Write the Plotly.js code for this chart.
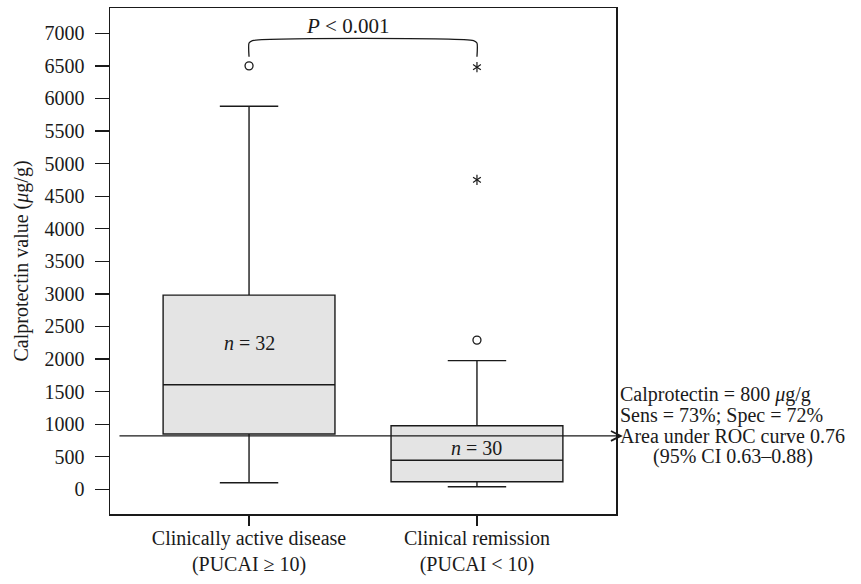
<!DOCTYPE html>
<html>
<head>
<meta charset="utf-8">
<script src="https://cdn.plot.ly/plotly-3.0.1.min.js"></script>
<style>html,body{margin:0;padding:0;background:#fff;}#chart{width:861px;height:584px;}</style>
</head>
<body>
<div id="chart"></div>
<script>
// ---- data ----
var groupPos = [0, 1];
var groupLabels = ["Clinically active disease<br>(PUCAI ≥ 10)", "Clinical remission<br>(PUCAI &lt; 10)"];
var lowerFence = [100, 40];
var q1 = [850, 115];
var median = [1605, 445];
var q3 = [2980, 975];
var upperFence = [5880, 1975];
var nLabels = ["<i>n</i> = 32", "<i>n</i> = 30"];
var nLabelY = [2250, 640];

var circleOutX = [0, 1];
var circleOutY = [6500, 2290];
var starOutX = [1, 1];
var starOutY = [6480, 4750];

var cutoff = 820;
var bracketX = [0, 0, 0.015, 0.985, 1, 1];
var bracketY = [6640, 6850, 6887, 6887, 6850, 6640];
var pText = "<i>P</i> &lt; 0.001";
var yTicks = [0, 500, 1000, 1500, 2000, 2500, 3000, 3500, 4000, 4500, 5000, 5500, 6000, 6500, 7000];
var rocLines = ["Calprotectin = 800 <i>μ</i>g/g", "Sens = 73%; Spec = 72%", "Area under ROC curve 0.76"];
var rocLineY = [1458, 1140, 822];
var rocCI = "(95% CI 0.63–0.88)";
var rocCIY = 504;

var FONT = "Liberation Serif, Times New Roman, serif";
var INK = "#1a1a1a";
var FS = 20;

var traces = [
  {
    type: "box",
    x: groupPos,
    q1: q1, median: median, q3: q3,
    lowerfence: lowerFence, upperfence: upperFence,
    width: 0.754,
    whiskerwidth: 0.34,
    fillcolor: "#e4e4e4",
    line: {color: INK, width: 1.4},
    boxpoints: false,
    hoverinfo: "skip",
    showlegend: false
  },
  {
    type: "scatter", mode: "markers",
    x: circleOutX, y: circleOutY,
    marker: {symbol: "circle-open", size: 8, color: INK, line: {width: 1.3, color: INK}},
    showlegend: false, hoverinfo: "skip", cliponaxis: false
  },
  {
    type: "scatter", mode: "markers",
    x: starOutX, y: starOutY,
    marker: {symbol: "y-up-open", size: 6.5, color: INK, line: {width: 1.2, color: INK}},
    showlegend: false, hoverinfo: "skip", cliponaxis: false
  },
  {
    type: "scatter", mode: "markers",
    x: starOutX, y: starOutY,
    marker: {symbol: "y-down-open", size: 6.5, color: INK, line: {width: 1.2, color: INK}},
    showlegend: false, hoverinfo: "skip", cliponaxis: false
  },
  {
    type: "scatter", mode: "lines",
    x: bracketX, y: bracketY,
    line: {color: INK, width: 1.3, shape: "spline", smoothing: 0.6},
    showlegend: false, hoverinfo: "skip", cliponaxis: false
  }
];

var annotations = [];
annotations.push({
  x: 1.64, y: cutoff, xref: "x", yref: "y",
  ax: -0.575, ay: cutoff, axref: "x", ayref: "y",
  text: "", showarrow: true, arrowhead: 5, arrowsize: 1.6, arrowwidth: 1.2, arrowcolor: INK,
  standoff: 0, startstandoff: 0
});
annotations.push({
  x: 0.434, y: 7112, xref: "x", yref: "y", text: pText, showarrow: false,
  font: {family: FONT, size: 21, color: INK}
});
for (var i = 0; i < nLabels.length; i++) {
  annotations.push({
    x: groupPos[i], y: nLabelY[i], xref: "x", yref: "y", text: nLabels[i], showarrow: false,
    font: {family: FONT, size: FS, color: INK}
  });
}
for (var j = 0; j < rocLines.length; j++) {
  annotations.push({
    x: 1.004, y: rocLineY[j], xref: "paper", yref: "y", text: rocLines[j], showarrow: false,
    xanchor: "left", font: {family: FONT, size: FS, color: INK}
  });
}
annotations.push({
  x: 1.231, y: rocCIY, xref: "paper", yref: "y", text: rocCI, showarrow: false,
  xanchor: "center", font: {family: FONT, size: FS, color: INK}
});

var layout = {
  width: 861, height: 584,
  margin: {l: 110, r: 245, t: 8, b: 70},
  paper_bgcolor: "#fff", plot_bgcolor: "#fff",
  font: {family: FONT, size: FS, color: INK},
  showlegend: false,
  xaxis: {
    range: [-0.61, 1.61],
    tickvals: groupPos, ticktext: groupLabels,
    ticks: "outside", ticklen: 10, tickwidth: 1.3, tickcolor: INK,
    showgrid: false, zeroline: false,
    showline: true, linecolor: INK, linewidth: 1.5, mirror: true,
    tickfont: {family: FONT, size: FS, color: INK},
    ticklabelstandoff: -5
  },
  yaxis: {
    range: [-379, 7388],
    tickvals: yTicks,
    ticks: "outside", ticklen: 14, tickwidth: 1.3, tickcolor: INK,
    showgrid: false, zeroline: false,
    showline: true, linecolor: INK, linewidth: 1.5, mirror: true,
    tickfont: {family: FONT, size: FS, color: INK},
    ticklabelstandoff: 6,
    title: {text: "Calprotectin value (<i>μ</i>g/g)", font: {family: FONT, size: FS, color: INK}, standoff: 10}
  },
  annotations: annotations
};

Plotly.newPlot("chart", traces, layout, {displayModeBar: false, staticPlot: true});
</script>
</body>
</html>
